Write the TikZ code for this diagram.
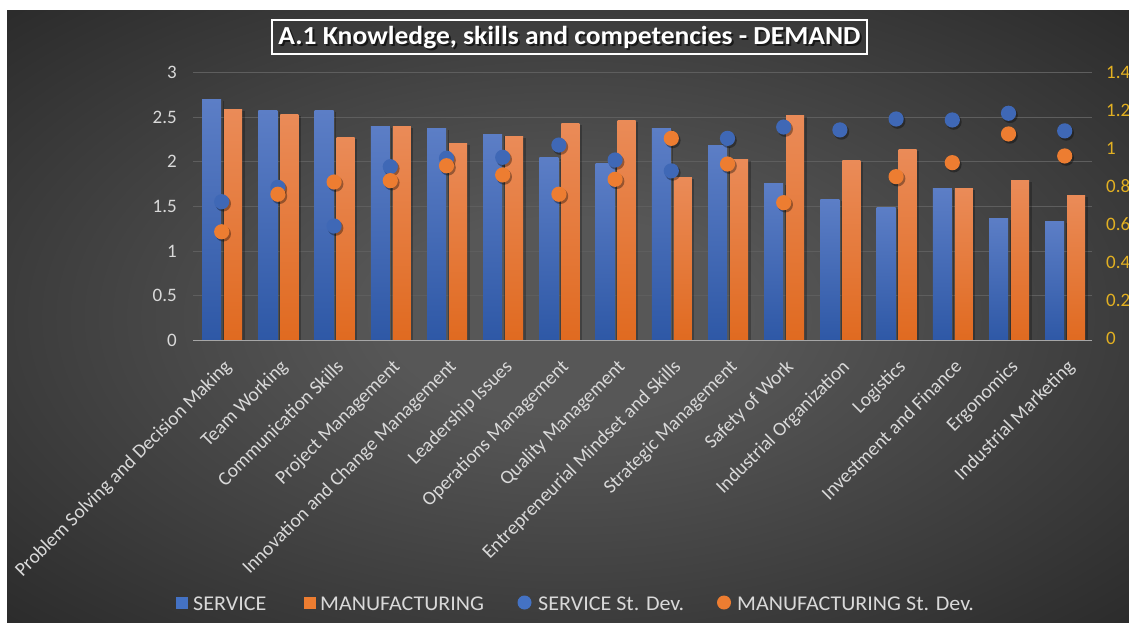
\documentclass[tikz,border=0pt]{standalone}
\usepackage{fontspec}
\setmainfont{Carlito}
\definecolor{bgin}{HTML}{575757}
\definecolor{bgout}{HTML}{292929}
\definecolor{btop}{HTML}{5C7EC6}
\definecolor{bbot}{HTML}{2E58A6}
\definecolor{otop}{HTML}{EA8B58}
\definecolor{obot}{HTML}{E06A20}
\definecolor{sdblue}{HTML}{3F68B6}
\definecolor{sdorange}{HTML}{ED7D31}
\definecolor{lblue}{HTML}{4472C4}
\definecolor{labgray}{HTML}{D9D9D9}
\definecolor{gold}{HTML}{E2B022}
\definecolor{gridc}{HTML}{5E5E5E}
\definecolor{basec}{HTML}{A6A6A6}
\pgfdeclareradialshading{bgshade}{\pgfpoint{0bp}{0bp}}{color(0bp)=(bgin); color(8bp)=(bgin); color(37bp)=(bgout); color(50bp)=(bgout)}
\tikzset{
  gridline/.style={draw=gridc, line width=1pt},
  baseline/.style={draw=basec, line width=1.6pt},
  ylab/.style={text=labgray, font=\fontsize{19}{22}\selectfont, inner sep=0pt},
  ytwolab/.style={text=gold, font=\fontsize{19}{22}\selectfont, inner sep=0pt},
  catlab/.style={text=labgray, font=\fontsize{19.5}{23}\selectfont, inner sep=0pt, rotate=45, anchor=north east},
  legtext/.style={text=labgray, font=\fontsize{21}{24}\selectfont, inner sep=0pt, anchor=west},
  titletext/.style={text=white, font=\fontsize{26}{30}\selectfont\bfseries, inner sep=0pt},
  shadowc/.style={fill=black, opacity=0.35},
}
\newcommand{\legx}[1]{\scalebox{1.05}[1]{#1}}
\begin{document}
\begin{tikzpicture}[x=1pt,y=-1pt]
\useasboundingbox (0,0) rectangle (1129,623);
\fill[white] (0,0) rectangle (1129,623);
\shade[shading=bgshade] (7,11) rectangle (1129,623);
% gridlines
\foreach \k in {1,...,6}{
  \draw[gridline] (193,{340.5-\k*44.667}) -- (1092,{340.5-\k*44.667});
}
% left axis labels
\foreach \k/\t in {0/0,1/0.5,2/1,3/1.5,4/2,5/2.5,6/3}{
  \node[ylab, anchor=east] (yl\k) at (177,{340.5-\k*44.667}) {\t};
}
% right axis labels
\foreach \k/\t in {0/0,1/0.2,2/0.4,3/0.6,4/0.8,5/1,6/1.2,7/1.4}{
  \node[ytwolab, anchor=west] (yr\k) at (1106,{338-\k*38}) {\t};
}
% bars
\foreach \i/\s/\m in {1/2.70/2.59,2/2.58/2.535,3/2.58/2.267,4/2.40/2.40,5/2.375/2.21,6/2.31/2.278,7/2.054/2.424,8/1.976/2.468,9/2.375/1.82,10/2.187/2.03,11/1.763/2.516,12/1.573/2.01,13/1.494/2.133,14/1.696/1.696,15/1.371/1.786,16/1.327/1.618}{
  \pgfmathsetmacro\c{221.7+(\i-1)*56.2}
  \pgfmathsetmacro\ys{340.5-\s*89.333}
  \pgfmathsetmacro\ym{340.5-\m*89.333}
  \fill[shadowc, opacity=0.25] (\c+1,\ys+1.5) rectangle (\c+2,340.5);
  \fill[shadowc, opacity=0.25] (\c+20.5,\ym+1.5) rectangle (\c+23,340.5);
  \shade[top color=btop, bottom color=bbot] (\c-19.5,\ys) rectangle (\c-0.5,340.5);
  \shade[top color=otop, bottom color=obot] (\c+2.5,\ym) rectangle (\c+20.5,340.5);
}
\draw[baseline] (193,340.5) -- (1092,340.5);
% category labels
\foreach \i/\lab in {1/Problem Solving and Decision Making,2/Team Working,3/Communication Skills,4/Project Management,5/Innovation and Change Management,6/Leadership Issues,7/Operations Management,8/Quality Management,9/Entrepreneurial Mindset and Skills,10/Strategic Management,11/Safety of Work,12/Industrial Organization,13/Logistics,14/Investment and Finance,15/Ergonomics,16/Industrial Marketing}{
  \pgfmathsetmacro\c{221.7+(\i-1)*56.2}
  \node[catlab] (cat\i) at (\c+1,358) {\lab};
}
% service st dev dots
\foreach \i/\d in {1/0.725,2/0.80,3/0.598,4/0.908,5/0.952,6/0.957,7/1.021,8/0.943,9/0.886,10/1.056,11/1.115,12/1.10,13/1.157,14/1.152,15/1.187,16/1.095}{
  \pgfmathsetmacro\c{221.7+(\i-1)*56.2}
  \pgfmathsetmacro\yd{340.5-\d*191.43}
  \fill[shadowc] (\c+1.5,\yd+2) circle (7.8);
  \fill[sdblue] (\c,\yd) circle (7.6);
}
% manufacturing st dev dots
\foreach \i/\d in {1/0.568,2/0.764,3/0.828,4/0.835,5/0.913,6/0.865,7/0.764,8/0.842,9/1.056,10/0.922,11/0.72,13/0.856,14/0.929,15/1.079,16/0.964}{
  \pgfmathsetmacro\c{221.7+(\i-1)*56.2}
  \pgfmathsetmacro\yd{340.5-\d*191.43}
  \fill[shadowc] (\c+1.5,\yd+2) circle (7.8);
  \fill[sdorange] (\c,\yd) circle (7.6);
}
% title
\node[titletext, opacity=0.6, text=black] (titleshadow) at (571.5,40) {\scalebox{1.06}[1]{A.1 Knowledge, skills and competencies - DEMAND}};
\node[titletext] (title) at (569.5,38) {\scalebox{1.06}[1]{A.1 Knowledge, skills and competencies - DEMAND}};
\draw[white, line width=1.1pt] (272,20) rectangle (867,54);
% legend
\fill[lblue] (176,597) rectangle (188,609);
\node[legtext] (leg1) at (193,603.5) {\legx{SERVICE}};
\fill[sdorange] (304,597) rectangle (316,609);
\node[legtext] (leg2) at (320,603.5) {\legx{MANUFACTURING}};
\fill[lblue] (524.5,602.5) circle (7);
\node[legtext] (leg3) at (538,603.5) {\legx{SERVICE St. Dev.}};
\fill[sdorange] (724,602.5) circle (7);
\node[legtext] (leg4) at (737,603.5) {\legx{MANUFACTURING St. Dev.}};
\end{tikzpicture}
\end{document}
